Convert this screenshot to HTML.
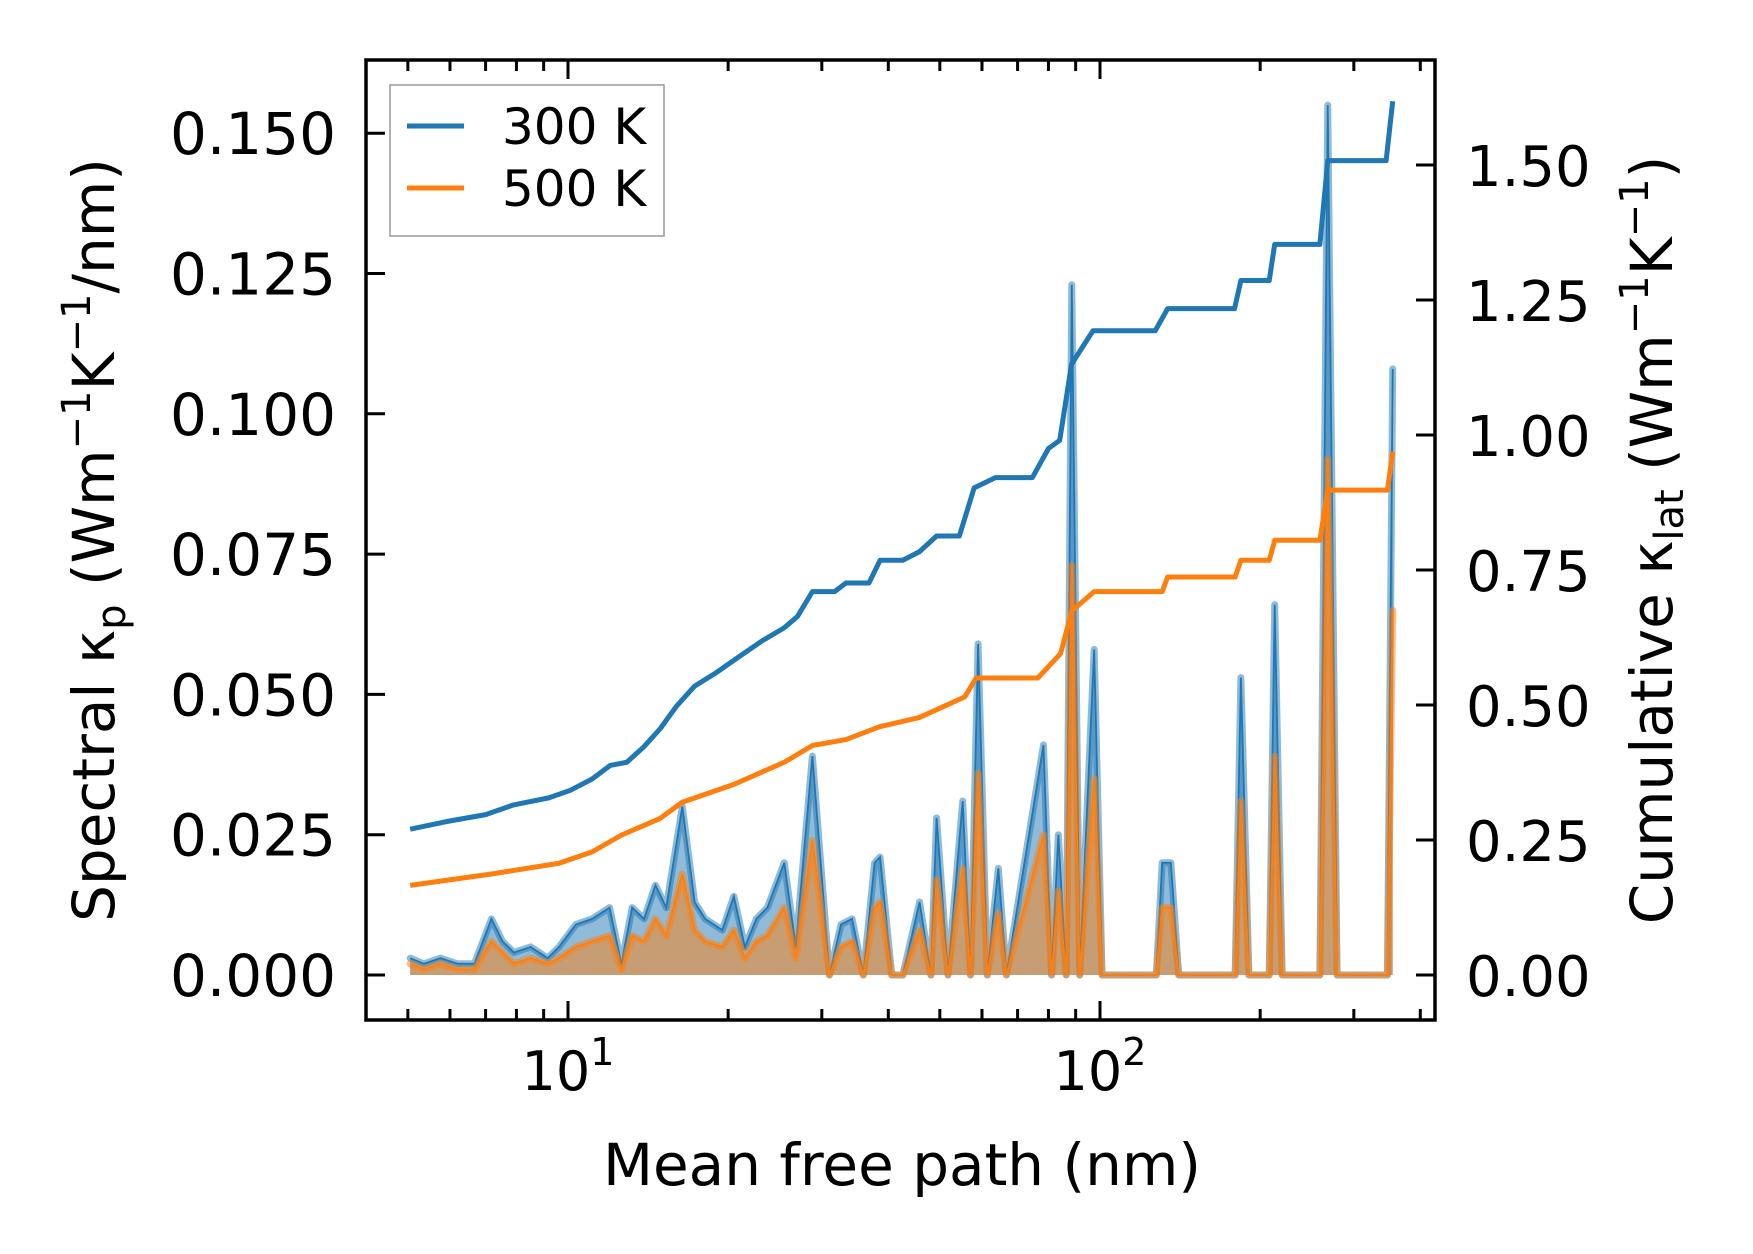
<!DOCTYPE html>
<html><head><meta charset="utf-8"><style>
html,body{margin:0;padding:0;background:#fff}
svg{display:block}
text{font-family:"DejaVu Sans","Liberation Sans",sans-serif;fill:#000}
</style></head><body>
<svg id="chart" width="1753" height="1254" viewBox="0 0 1753 1254" xmlns="http://www.w3.org/2000/svg">
<g id="marks"></g>
<g id="axes"></g>
</svg>
<script>
const mfp=[5.05,5.36,5.76,6.2,6.67,7.18,7.53,7.91,8.51,9.16,9.62,10.35,11.1,11.97,12.6,13.2,13.9,14.6,15.3,16.4,17.3,18.1,19.5,20.5,21.5,22.6,23.7,25.5,26.8,28.8,31.0,32.6,34.2,35.9,37.7,38.6,40.6,42.6,45.8,48.1,49.3,51.8,55.2,57.1,59.0,61.4,64.4,66.7,78.3,81.1,83.5,86.4,88.5,91.6,97.5,100.9,127.6,130.9,135.9,140.6,179.5,184,190.5,208,213,220,259,268,279,347,355];
const spec300=[0.003,0.002,0.003,0.002,0.002,0.010,0.006,0.004,0.005,0.003,0.005,0.009,0.010,0.012,0.002,0.012,0.010,0.016,0.012,0.030,0.013,0.010,0.008,0.014,0.005,0.010,0.012,0.020,0.005,0.039,0,0.009,0.010,0,0.020,0.021,0,0,0.013,0,0.028,0,0.031,0,0.059,0,0.019,0,0.041,0,0.025,0,0.123,0,0.058,0,0,0.020,0.020,0,0,0.053,0,0,0.066,0,0,0.155,0,0,0.108];
const spec500=[0.002,0.001,0.002,0.001,0.001,0.006,0.004,0.002,0.003,0.002,0.003,0.005,0.006,0.007,0.001,0.007,0.006,0.010,0.007,0.018,0.008,0.006,0.005,0.008,0.003,0.006,0.007,0.012,0.003,0.024,0,0.005,0.006,0,0.012,0.013,0,0,0.008,0,0.017,0,0.019,0,0.036,0,0.011,0,0.025,0,0.015,0,0.073,0,0.035,0,0,0.012,0.012,0,0,0.031,0,0,0.039,0,0,0.092,0,0,0.065];
const cumX300=[5.05,5.9,7.0,7.9,9.2,10.1,11.1,12,12.9,13.9,14.9,16,17.3,19,21,23.1,25.5,27,28.8,31.7,33.3,36.8,38.6,42.6,45.8,49.3,54.4,58,63.6,74.6,80,84,88.4,97,127,134,179,184,208,213,259,268,345,355];
const cum300=[.27,.284,.297,.315,.328,.342,.363,.388,.394,.423,.456,.498,.535,.56,.59,.618,.643,.664,.71,.71,.726,.726,.768,.768,.784,.813,.813,.902,.921,.921,.975,.99,1.131,1.193,1.193,1.234,1.234,1.286,1.286,1.353,1.353,1.508,1.508,1.618];
const cumX500=[5.05,7.18,9.62,11.1,12.6,14.9,16.4,20.5,25.5,28.8,33.3,38.6,45.8,55.7,58.5,76.4,84.3,88.5,97.5,130.9,134,179.5,184,208,213,259,268,347,355];
const cum500=[.166,.187,.207,.228,.259,.29,.32,.353,.394,.425,.436,.46,.477,.515,.55,.55,.595,.674,.71,.71,.737,.737,.768,.768,.805,.805,.898,.898,.969];
const leftTicks=[0,0.025,0.05,0.075,0.1,0.125,0.15];
const leftTickLabels=["0.000","0.025","0.050","0.075","0.100","0.125","0.150"];
const rightTicks=[0,0.25,0.5,0.75,1.0,1.25,1.5];
const rightTickLabels=["0.00","0.25","0.50","0.75","1.00","1.25","1.50"];

const L=366,R=1435,T=60,B=1020;
const NS="http://www.w3.org/2000/svg";
const xS=v=>568+(Math.log10(v)-1)*532;
const yL=v=>975-v*5612;
const yR=v=>975-v*540;
function mk(tag,attrs,parent,txt){const e=document.createElementNS(NS,tag);for(const k in attrs)e.setAttribute(k,attrs[k]);if(txt!==undefined)e.textContent=txt;parent.appendChild(e);return e;}
const marks=document.getElementById('marks'),axes=document.getElementById('axes');

function spectral(vals,color,name){
  let d='M'+xS(mfp[0])+','+yL(0);
  mfp.forEach((m,i)=>d+=' L'+xS(m)+','+yL(vals[i]));
  d+=' L'+xS(mfp[mfp.length-1])+','+yL(0)+' Z';
  const f=mk('path',{d:d,fill:color,'fill-opacity':0.5},marks);
  
  
  const pts=mfp.map((m,i)=>xS(m)+','+yL(vals[i])).join(' ');
  const t=mk('polyline',{points:pts,fill:'none',stroke:color,'stroke-opacity':0.5,'stroke-width':7,'stroke-linejoin':'round','stroke-linecap':'round'},marks);
  
  
  const l=mk('polyline',{points:pts,fill:'none',stroke:color,'stroke-width':1.8},marks);
  
  
}
spectral(spec300,'#1f77b4','spectral-300k');
spectral(spec500,'#ff7f0e','spectral-500k');
function cum(xs,vals,color,name){
  const pts=xs.map((m,i)=>xS(m)+','+yR(vals[i])).join(' ');
  const l=mk('polyline',{points:pts,fill:'none',stroke:color,'stroke-width':5,'stroke-linejoin':'round'},marks);
  
  
}
cum(cumX300,cum300,'#1f77b4','cumulative-300k');
cum(cumX500,cum500,'#ff7f0e','cumulative-500k');

const fr=mk('rect',{x:L,y:T,width:R-L,height:B-T,fill:'none',stroke:'#000','stroke-width':3.5},axes);


const minors=[];
for(let d=0;d<3;d++)for(let k=1;k<10;k++){const v=k*Math.pow(10,d);if(xS(v)>L+1&&xS(v)<R-1)minors.push(v);}
minors.forEach(v=>{const x=xS(v),len=(v===10||v===100)?19:11;
  mk('line',{x1:x,y1:B,x2:x,y2:B-len,stroke:'#000','stroke-width':3},axes);
  mk('line',{x1:x,y1:T,x2:x,y2:T+len,stroke:'#000','stroke-width':3},axes);});
[[10,'1'],[100,'2']].forEach(([v,e])=>{
  const t=mk('text',{x:xS(v),y:1090,'font-size':54,'text-anchor':'middle'},axes);
  
  
  mk('tspan',{},t,'10');mk('tspan',{'font-size':38,dy:-25},t,e);
});
leftTicks.forEach((v,i)=>{const y=yL(v);
  mk('line',{x1:L,y1:y,x2:L+19,y2:y,stroke:'#000','stroke-width':3},axes);
  const t=mk('text',{x:336,y:y+21,'font-size':58,'text-anchor':'end'},axes,leftTickLabels[i]);
  
  });
rightTicks.forEach((v,i)=>{const y=yR(v);
  mk('line',{x1:R,y1:y,x2:R-19,y2:y,stroke:'#000','stroke-width':3},axes);
  const t=mk('text',{x:1466,y:y+21,'font-size':56},axes,rightTickLabels[i]);
  
  });
</script>
<svg style="position:absolute;left:0;top:0" width="1753" height="1254" xmlns="http://www.w3.org/2000/svg">
<text x="902" y="1185" font-size="58" text-anchor="middle" style="font-family:'DejaVu Sans',sans-serif">Mean free path (nm)</text>
<text transform="translate(114,540) rotate(-90)" font-size="58" text-anchor="middle" style="font-family:'DejaVu Sans',sans-serif">Spectral κ<tspan font-size="40" dy="11">p</tspan><tspan dy="-11"> (Wm</tspan><tspan font-size="40" dy="-24">−1</tspan><tspan dy="24">K</tspan><tspan font-size="40" dy="-24">−1</tspan><tspan dy="24">/nm)</tspan></text>
<text transform="translate(1672,540) rotate(-90)" font-size="58" text-anchor="middle" style="font-family:'DejaVu Sans',sans-serif">Cumulative κ<tspan font-size="40" dy="11">lat</tspan><tspan dy="-11"> (Wm</tspan><tspan font-size="40" dy="-24">−1</tspan><tspan dy="24">K</tspan><tspan font-size="40" dy="-24">−1</tspan><tspan dy="24">)</tspan></text>
<g>
<rect x="390" y="85" width="274" height="151" fill="#fff" stroke="#999" stroke-width="1.5"/>
<line x1="407" y1="126" x2="464" y2="126" stroke="#1f77b4" stroke-width="5"/>
<text x="502" y="144" font-size="50" style="font-family:'DejaVu Sans',sans-serif">300 K</text>
<line x1="407" y1="188" x2="464" y2="188" stroke="#ff7f0e" stroke-width="5"/>
<text x="502" y="206" font-size="50" style="font-family:'DejaVu Sans',sans-serif">500 K</text>
</g>
</svg>
</body></html>
